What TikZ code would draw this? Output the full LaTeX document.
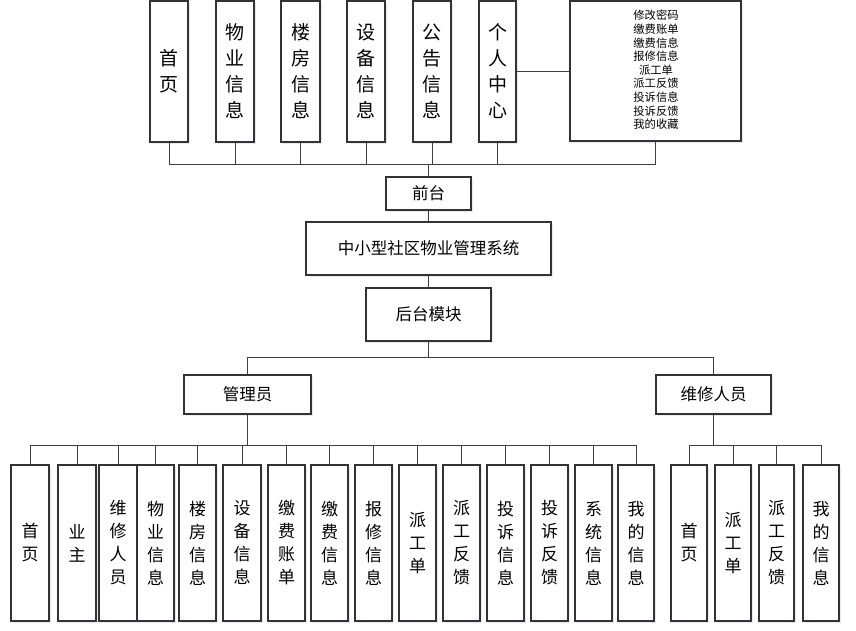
\documentclass[tikz,border=0pt]{standalone}
\usepackage{fontspec}
\newfontfamily\cjk{Noto Sans CJK SC}
\usetikzlibrary{shadows}
\tikzset{
  box/.style={draw=black!80, line width=1.1pt, fill=white, rectangle, inner sep=0pt,
    drop shadow={opacity=0.12, shadow xshift=2pt, shadow yshift=-2pt, fill=blue!40!gray}},
  vtop/.style={box, font=\cjk\fontsize{19}{26}\selectfont, align=center},
  vbot/.style={box, font=\cjk\fontsize{17}{23}\selectfont, align=center},
  hbox/.style={box, font=\cjk\fontsize{16.5}{19}\selectfont},
  con/.style={draw=black!75, line width=1pt}
}
\newcommand{\bx}[7]{% style, name, x1, y1, x2, y2, text
  \node[#1, minimum width={#5-#3}, minimum height={#6-#4}] (#2) at ({(#3+#5)/2},{(#4+#6)/2}) {#7};}
\begin{document}
\begin{tikzpicture}[x=1pt,y=-1pt]
\useasboundingbox (0,0) rectangle (856,631);
% top row
\bx{vtop}{t1}{150}{1}{188}{142}{首\\页}
\bx{vtop}{t2}{216}{1}{254}{142}{物\\业\\信\\息}
\bx{vtop}{t3}{281}{1}{320}{142}{楼\\房\\信\\息}
\bx{vtop}{t4}{347}{1}{385}{142}{设\\备\\信\\息}
\bx{vtop}{t5}{413}{1}{451}{142}{公\\告\\信\\息}
\bx{vtop}{t6}{479}{1}{516}{142}{个\\人\\中\\心}
\bx{box}{big}{570}{1}{741}{141}{}
\node[font=\cjk\fontsize{11.3}{13.6}\selectfont, align=center] (bigtxt) at (656,70)
  {修改密码\\缴费账单\\缴费信息\\报修信息\\派工单\\派工反馈\\投诉信息\\投诉反馈\\我的收藏};
% middle
\bx{hbox}{qt}{386}{177}{471}{210}{前台}
\bx{hbox}{sys}{306}{222}{551}{275}{中小型社区物业管理系统}
\bx{hbox}{ht}{366}{288}{491}{341}{后台模块}
\bx{hbox}{adm}{184}{375}{311}{414}{管理员}
\bx{hbox}{rep}{656}{375}{771}{414}{维修人员}
% bottom admin row
\bx{vbot}{a1}{11}{465}{49}{621}{首\\页}
\bx{vbot}{a2}{58}{465}{96}{621}{业\\主}
\bx{vbot}{a3}{99}{465}{137}{621}{维\\修\\人\\员}
\bx{vbot}{a4}{137}{465}{174}{621}{物\\业\\信\\息}
\bx{vbot}{a5}{179}{465}{216}{621}{楼\\房\\信\\息}
\bx{vbot}{a6}{223}{465}{261}{621}{设\\备\\信\\息}
\bx{vbot}{a7}{268}{465}{305}{621}{缴\\费\\账\\单}
\bx{vbot}{a8}{311}{465}{348}{621}{缴\\费\\信\\息}
\bx{vbot}{a9}{355}{465}{392}{621}{报\\修\\信\\息}
\bx{vbot}{a10}{399}{465}{436}{621}{派\\工\\单}
\bx{vbot}{a11}{443}{465}{480}{621}{派\\工\\反\\馈}
\bx{vbot}{a12}{487}{465}{524}{621}{投\\诉\\信\\息}
\bx{vbot}{a13}{531}{465}{568}{621}{投\\诉\\反\\馈}
\bx{vbot}{a14}{575}{465}{612}{621}{系\\统\\信\\息}
\bx{vbot}{a15}{618}{465}{654}{621}{我\\的\\信\\息}
% bottom repair row
\bx{vbot}{r1}{671}{465}{707}{621}{首\\页}
\bx{vbot}{r2}{715}{465}{751}{621}{派\\工\\单}
\bx{vbot}{r3}{759}{465}{794}{621}{派\\工\\反\\馈}
\bx{vbot}{r4}{803}{465}{839}{621}{我\\的\\信\\息}
% bus coordinates
\coordinate (tb) at (0,165);
\coordinate (mb) at (0,357);
\coordinate (ab) at (0,445);
% top connectors
\foreach \n in {t1,t2,t3,t4,t5,t6,big}{\draw[con] (\n.south) -- (\n.south |- tb);}
\draw[con] (t1.south |- tb) -- (big.south |- tb);
\draw[con] (qt.north) -- (qt.north |- tb);
\draw[con] (t6.east) -- (big.west |- t6.east);
% middle chain
\draw[con] (qt.south) -- (sys.north -| qt.south);
\draw[con] (sys.south -| ht.north) -- (ht.north);
\draw[con] (ht.south) -- (ht.south |- mb);
\draw[con] (adm.north |- mb) -- (rep.north |- mb);
\draw[con] (adm.north |- mb) -- (adm.north);
\draw[con] (rep.north |- mb) -- (rep.north);
% admin children
\draw[con] (adm.south) -- (adm.south |- ab);
\draw[con] (a1.north |- ab) -- (a15.north |- ab);
\foreach \n in {a1,a2,a3,a4,a5,a6,a7,a8,a9,a10,a11,a12,a13,a14,a15}{\draw[con] (\n.north |- ab) -- (\n.north);}
% repair children
\draw[con] (rep.south) -- (rep.south |- ab);
\draw[con] (r1.north |- ab) -- (r4.north |- ab);
\foreach \n in {r1,r2,r3,r4}{\draw[con] (\n.north |- ab) -- (\n.north);}
\end{tikzpicture}
\end{document}
